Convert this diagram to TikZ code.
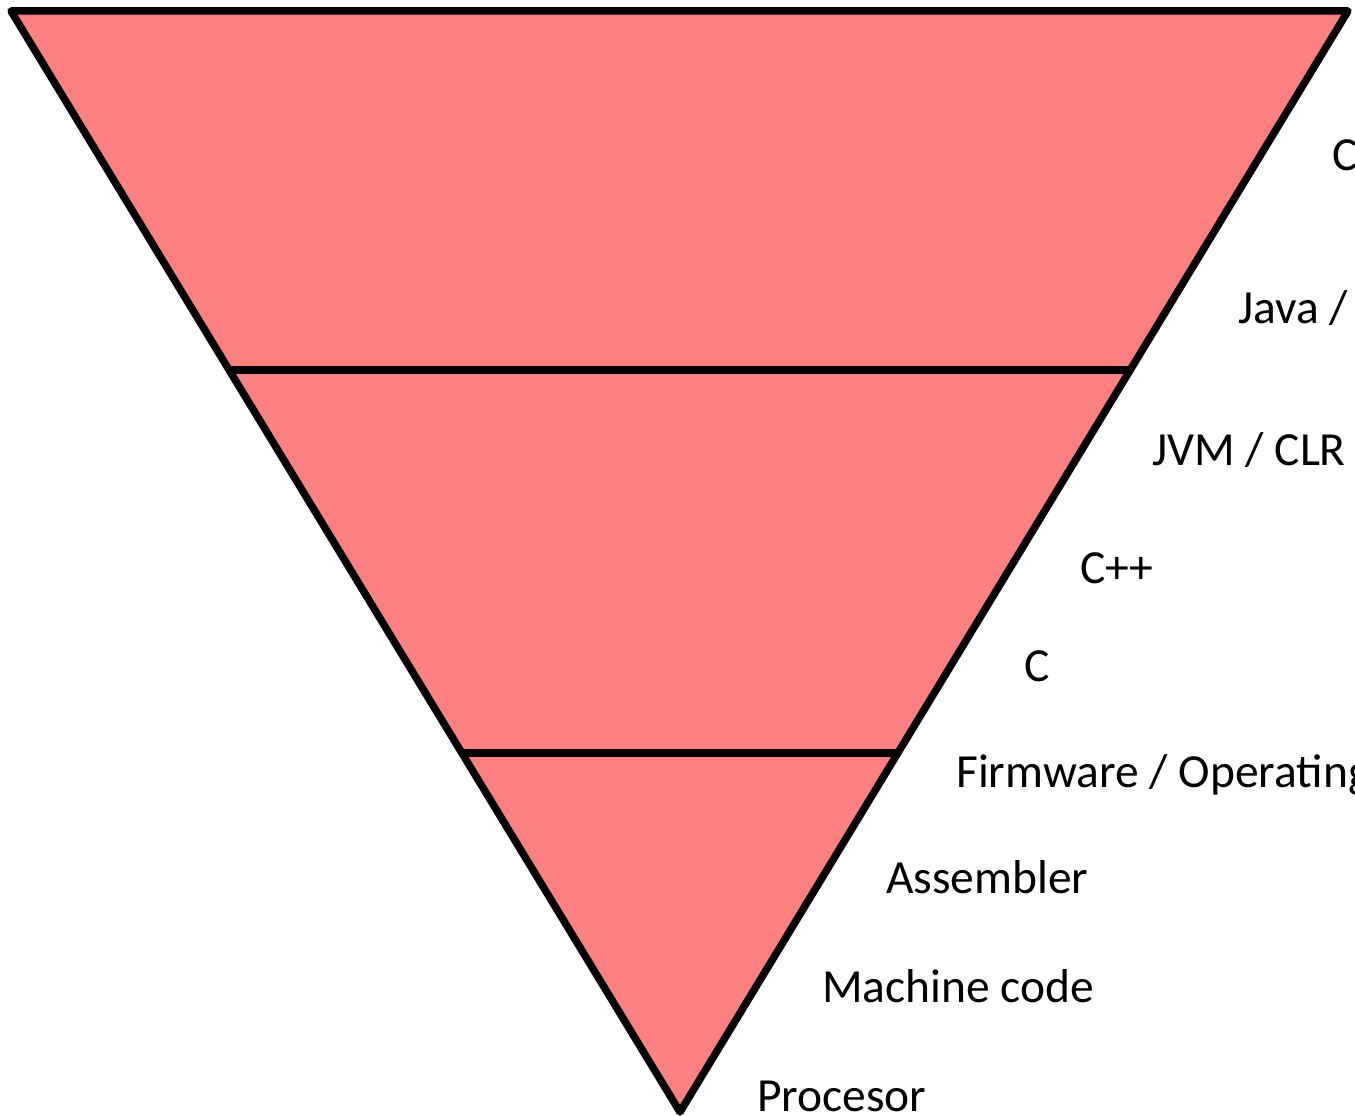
\documentclass[tikz,border=0pt]{standalone}
\usepackage{fontspec}
\setmainfont{Carlito}
\definecolor{layerfill}{HTML}{FF8080}
\begin{document}
\begin{tikzpicture}[x=1pt,y=-1pt,
  edge/.style={draw=black,line width=7.5pt,line join=round},
  lbl/.style={anchor=base west,inner sep=0pt,font=\fontsize{47.5}{55}\selectfont}]
\useasboundingbox (0,0) rectangle (1355,1116);
\clip (0,0) rectangle (1355,1116);
\coordinate (tl) at (11,11);
\coordinate (tr) at (1348,11);
\coordinate (ap) at (680,1112);
\coordinate (l1) at (229,370);
\coordinate (r1) at (1130,370);
\coordinate (l2) at (462,753);
\coordinate (r2) at (898,753);
\fill[layerfill] (tl) -- (tr) -- (ap) -- cycle;
\draw[edge] (l1) -- (r1);
\draw[edge] (l2) -- (r2);
\draw[edge] (tl) -- (tr) -- (ap) -- cycle;
\node[lbl] (t1) at (1332,170) {C};
\node[lbl] (t2) at (1238,323) {Java /};
\node[lbl] (t3) at (1152,465) {JVM / CLR};
\node[lbl] (t4) at (1080,583) {C++};
\node[lbl] (t5) at (1024,681) {C};
\node[lbl] (t6) at (956,787) {Firmware / Operating};
\node[lbl] (t7) at (886,893) {Assembler};
\node[lbl] (t8) at (822,1002) {Machine code};
\node[lbl] (t9) at (757,1111) {Procesor};
\end{tikzpicture}
\end{document}
